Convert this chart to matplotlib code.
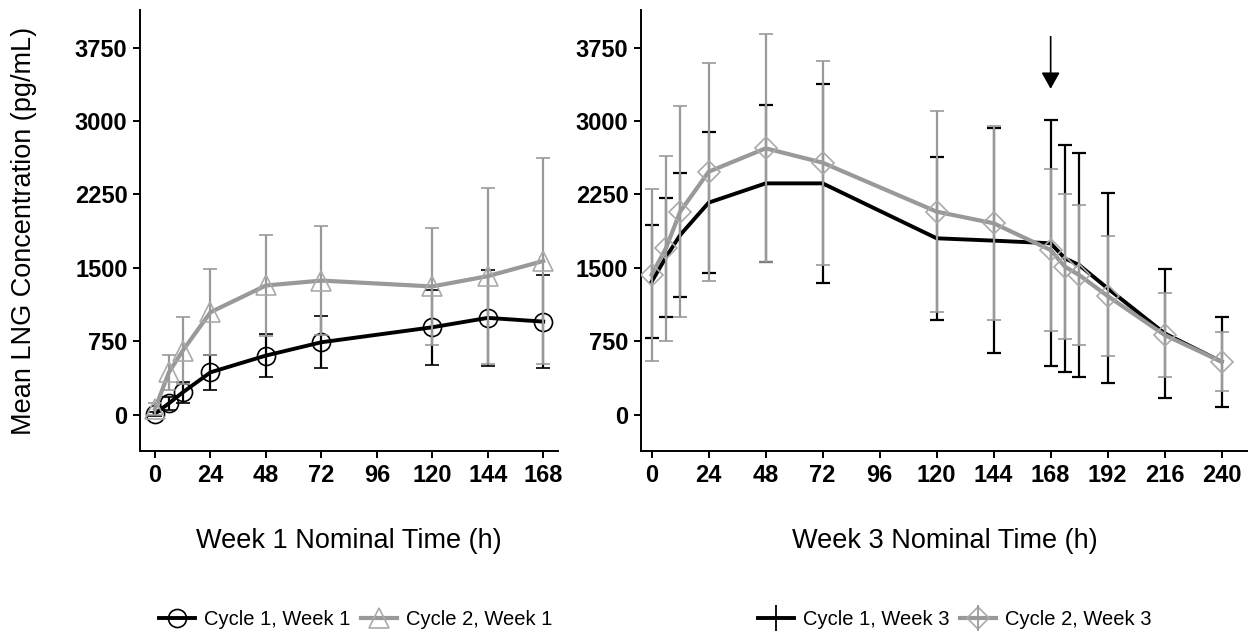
import numpy as np
import matplotlib
matplotlib.use("Agg")
import matplotlib.pyplot as plt
from matplotlib.lines import Line2D
from matplotlib.legend_handler import HandlerTuple

plt.rcParams["font.family"] = ["Liberation Sans", "DejaVu Sans"]

# Week 1 data (mean and SD, pg/mL)
t_w1 = [0, 6, 12, 24, 48, 72, 120, 144, 168]
c1w1_mean = [10, 116, 228, 433, 604, 740, 893, 989, 951]
c1w1_sd = [20, 65, 110, 180, 220, 264, 383, 490, 475]
c2w1_mean = [60, 433, 655, 1047, 1320, 1370, 1310, 1415, 1570]
c2w1_sd = [60, 180, 340, 440, 520, 560, 600, 900, 1050]

# Week 3 data
t_w3 = [0, 6, 12, 24, 48, 72, 120, 144, 168, 174, 180, 192, 216, 240]
c1w3_mean = [1359, 1608, 1835, 2166, 2363, 2363, 1802, 1778, 1751, 1597, 1529, 1291, 831, 541]
c1w3_sd = [575, 610, 630, 720, 800, 1013, 830, 1150, 1255, 1160, 1145, 970, 660, 460]
c2w3_mean = [1430, 1700, 2074, 2482, 2721, 2574, 2074, 1955, 1682, 1512, 1427, 1212, 814, 541]
c2w3_sd = [880, 945, 1075, 1115, 1165, 1044, 1030, 990, 830, 740, 720, 610, 430, 300]

yticks = [0, 750, 1500, 2250, 3000, 3750]
xticks_w1 = [0, 24, 48, 72, 96, 120, 144, 168]
xticks_w3 = [0, 24, 48, 72, 96, 120, 144, 168, 192, 216, 240]
arrow_time = 168

GREY = "#999999"
LGREY = "#aaaaaa"

fig = plt.figure(figsize=(12.48, 6.33), dpi=100)
ax1 = fig.add_axes([0.1122, 0.2875, 0.3349, 0.6967])
ax2 = fig.add_axes([0.5136, 0.2875, 0.4864, 0.6967])

# left panel
ax1.errorbar(t_w1, c1w1_mean, yerr=c1w1_sd, color="black", lw=2.8, elinewidth=1.6,
             capsize=5, capthick=1.6, marker="o", ms=13, mfc="none", mec="black",
             mew=1.2, zorder=2)
ax1.errorbar(t_w1, c2w1_mean, yerr=c2w1_sd, color=GREY, lw=3, elinewidth=1.6,
             capsize=5, capthick=1.6, marker="^", ms=15, mfc="none", mec=LGREY,
             mew=1.2, zorder=3)

# right panel
ax2.errorbar(t_w3, c1w3_mean, yerr=c1w3_sd, color="black", lw=2.8, elinewidth=1.6,
             capsize=5, capthick=1.6, zorder=2)
ax2.errorbar(t_w3, c2w3_mean, yerr=c2w3_sd, color=GREY, lw=3, elinewidth=1.6,
             capsize=5, capthick=1.6, marker="D", ms=11, mfc="none", mec=LGREY,
             mew=1.2, zorder=3)
ax2.annotate("", xy=(arrow_time, 3300), xytext=(arrow_time, 3890),
             arrowprops=dict(arrowstyle="-|>,head_length=0.5,head_width=0.28",
                             color="black", lw=1.2, mutation_scale=20))

for ax, xt, xl in [(ax1, xticks_w1, (-6.5, 174.4)), (ax2, xticks_w3, (-4.5, 251.1))]:
    ax.set_xlim(*xl)
    ax.set_ylim(-371, 4134)
    ax.set_xticks(xt)
    ax.set_yticks(yticks)
    for s in ["top", "right"]:
        ax.spines[s].set_visible(False)
    for s in ["left", "bottom"]:
        ax.spines[s].set_linewidth(1.4)
    ax.tick_params(length=5, width=1.4, labelsize=17, pad=4)
    for lab in ax.get_xticklabels() + ax.get_yticklabels():
        lab.set_fontweight("bold")

ax1.set_xlabel("Week 1 Nominal Time (h)", fontsize=19.5, labelpad=30)
ax2.set_xlabel("Week 3 Nominal Time (h)", fontsize=19.5, labelpad=30)
ax1.set_ylabel("Mean LNG Concentration (pg/mL)", fontsize=19.5, labelpad=27)

# legends
h1 = Line2D([], [], color="black", lw=2.8, marker="o", ms=13, mfc="none", mec="black", mew=1.2)
h2 = Line2D([], [], color=GREY, lw=3, marker="^", ms=15, mfc="none", mec=LGREY, mew=1.2)
fig.legend([h1, h2], ["Cycle 1, Week 1", "Cycle 2, Week 1"], loc="center",
           bbox_to_anchor=(0.285, 0.022), ncol=2, frameon=False, fontsize=14.5,
           handlelength=1.8, handletextpad=0.45, columnspacing=0.5)

v1 = Line2D([], [], color="black", lw=0, marker="|", ms=19, mew=1.3)
l1 = Line2D([], [], color="black", lw=2.8)
v2 = Line2D([], [], color=GREY, lw=0, marker="|", ms=19, mew=1.3)
l2 = Line2D([], [], color=GREY, lw=3, marker="D", ms=11, mfc="none", mec=LGREY, mew=1.2)
fig.legend([(l1, v1), (l2, v2)], ["Cycle 1, Week 3", "Cycle 2, Week 3"], loc="center",
           bbox_to_anchor=(0.765, 0.022), ncol=2, frameon=False, fontsize=14.5,
           handlelength=1.8, handletextpad=0.45, columnspacing=0.5,
           handler_map={tuple: HandlerTuple(ndivide=1)})

fig.savefig("out.png", dpi=100)
